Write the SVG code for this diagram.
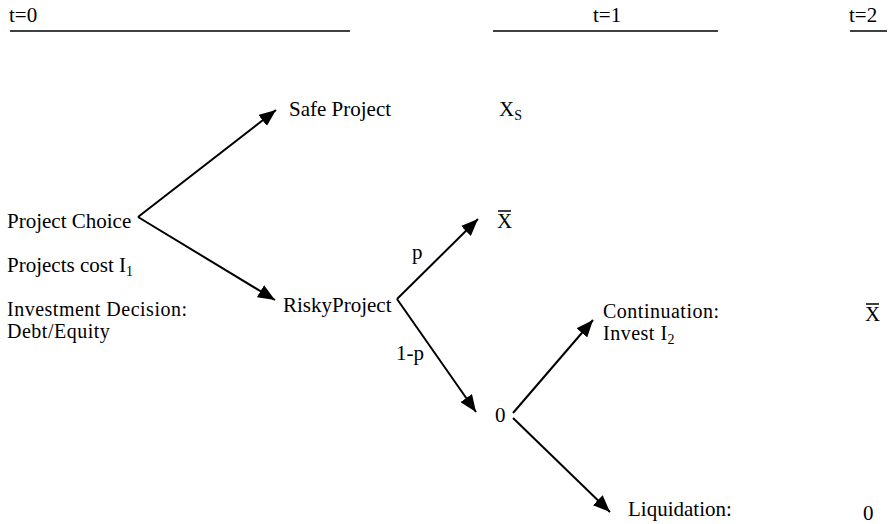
<svg xmlns="http://www.w3.org/2000/svg" width="893" height="524" viewBox="0 0 893 524" font-family="'Liberation Serif', 'Times New Roman', Times, serif" font-size="21">
<style>
text{font-family:'Liberation Serif','Times New Roman',Times,serif;font-size:21px;fill:#000}
.rule{stroke:#000;stroke-width:1.5}
.edge{stroke:#000;stroke-width:2;fill:none}
.sub{font-size:14px}
.tight{font-size:20px;letter-spacing:0.5px}
</style>
<defs>
<marker id="ah" markerUnits="userSpaceOnUse" markerWidth="18" markerHeight="14" refX="17" refY="7" orient="auto">
<path d="M0,0 L17,7 L0,14 Z" fill="#000"/>
</marker>
</defs>
<g id="header">
<text x="9" y="22">t=0</text>
<line class="rule" x1="10" y1="31" x2="350" y2="31"/>
<text x="593" y="22">t=1</text>
<line class="rule" x1="493" y1="31" x2="718" y2="31"/>
<text x="849" y="22">t=2</text>
<line class="rule" x1="850" y1="31" x2="887" y2="31"/>
</g>
<g id="connectors">
<line class="edge" x1="138" y1="217" x2="276" y2="110" marker-end="url(#ah)"/>
<line class="edge" x1="138" y1="217" x2="275" y2="300" marker-end="url(#ah)"/>
<line class="edge" x1="397" y1="299" x2="478" y2="219" marker-end="url(#ah)"/>
<line class="edge" x1="397" y1="299" x2="476" y2="412" marker-end="url(#ah)"/>
<line class="edge" x1="513" y1="413" x2="593" y2="320" marker-end="url(#ah)"/>
<line class="edge" x1="513" y1="418" x2="610" y2="512" marker-end="url(#ah)"/>
</g>
<g id="project-choice">
<text x="7" y="228">Project Choice</text>
<text x="7" y="272">Projects cost I<tspan class="sub" dy="4">1</tspan></text>
<text class="tight" x="7" y="316">Investment Decision:</text>
<text class="tight" x="7" y="338">Debt/Equity</text>
</g>
<g id="safe-project"><text x="289" y="116">Safe Project</text></g>
<g id="xs"><text x="499" y="116">X<tspan class="sub" dy="4">S</tspan></text></g>
<g id="risky-project"><text x="283" y="312">RiskyProject</text></g>
<g id="xbar1"><text x="497" y="228">X</text><line class="rule" x1="498" y1="211" x2="511" y2="211"/></g>
<g id="label-p"><text x="412" y="259">p</text></g>
<g id="label-1p"><text x="396" y="360">1-p</text></g>
<g id="zero1"><text x="495" y="422">0</text></g>
<g id="continuation">
<text class="tight" x="603" y="318">Continuation:</text>
<text class="tight" x="603" y="340">Invest I<tspan class="sub" dy="4">2</tspan></text>
</g>
<g id="xbar2"><text x="865" y="321">X</text><line class="rule" x1="866" y1="304" x2="879" y2="304"/></g>
<g id="liquidation"><text x="628" y="516">Liquidation:</text></g>
<g id="zero2"><text x="863" y="520">0</text></g>
</svg>
